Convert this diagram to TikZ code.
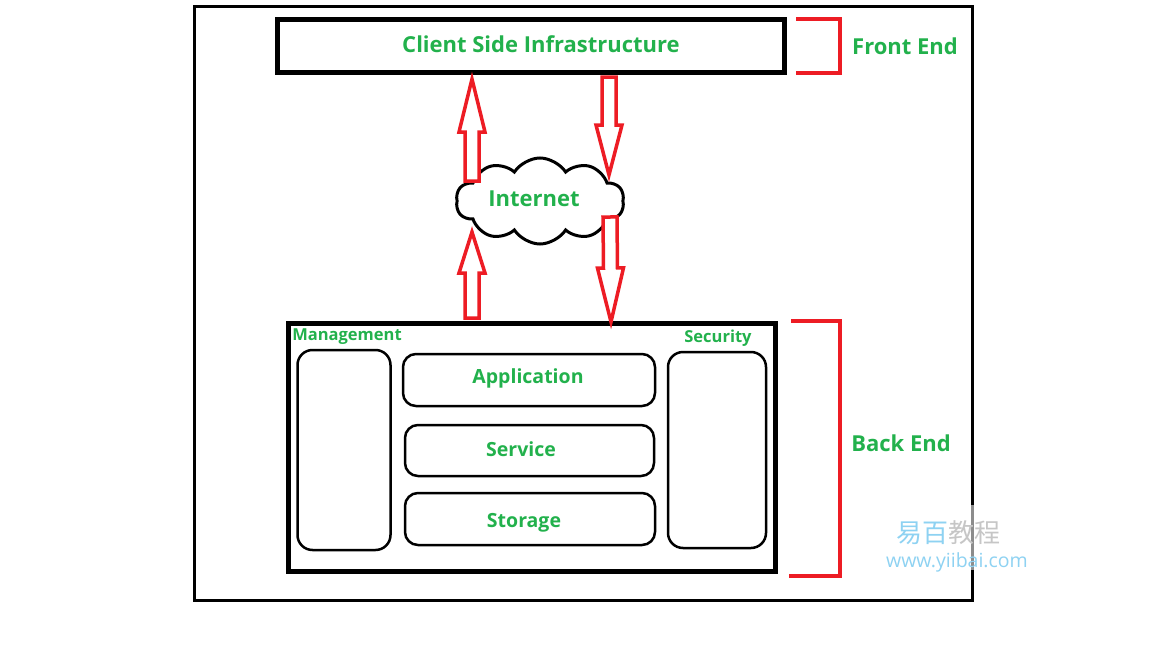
\documentclass[tikz,border=0pt]{standalone}
\usepackage{fontspec}
\setsansfont{Open Sans}
\newfontfamily\cjk{Noto Sans CJK SC}
\usepackage{tikz}
\usetikzlibrary{shapes.symbols,calc}
\definecolor{paintgreen}{HTML}{22B14C}
\definecolor{paintred}{HTML}{ED1C24}
\definecolor{markblue}{HTML}{8ED2F2}
\definecolor{markgray}{HTML}{C6C6C6}

% hollow block arrow: start, tip, head length
\newcommand{\hollowarrow}[3]{%
  \coordinate (hb) at ($(#2)!#3!(#1)$);
  \draw[blockline] ($(#1)!7pt!90:(#2)$) -- ($(hb)!7pt!-90:(#1)$)
    -- ($(hb)!13pt!-90:(#1)$) -- (#2) -- ($(hb)!13pt!90:(#1)$)
    -- ($(hb)!7pt!90:(#1)$) -- ($(#1)!7pt!-90:(#2)$) -- cycle;
}

\begin{document}
\begin{tikzpicture}[x=1pt, y=-1pt,
    txt/.style={text=paintgreen, font=\sffamily\bfseries\fontsize{22}{26}\selectfont, inner sep=0pt},
    small/.style={text=paintgreen, font=\sffamily\bfseries\fontsize{16.5}{20}\selectfont, inner sep=0pt},
    mid/.style={text=paintgreen, font=\sffamily\bfseries\fontsize{19.5}{23}\selectfont, inner sep=0pt},
    layer/.style={draw, line width=2.5pt, rounded corners=13pt, inner sep=0pt},
    side/.style={draw, line width=2.5pt, rounded corners=15pt, inner sep=0pt},
    bracket/.style={draw=paintred, line width=4pt},
    blockline/.style={draw=paintred, fill=white, line width=3.5pt, line join=miter}]
        \useasboundingbox (0,0) rectangle (1152,648);
        % outer frame
        \draw[line width=3pt] (194.5,6.5) rectangle (972.5,600.5);
        % front end
        \node[draw, line width=5pt, minimum width=507pt, minimum height=53pt] (client) at (531,46) {};
        \node[txt] (clientlbl) at (541,44) {Client Side Infrastructure};
        \draw[bracket] (796,19) -- (840,19) -- (840,73) -- (796,73);
        \node[txt] (front) at (905,46) {Front End};
        % internet
        \node[cloud, draw, line width=3pt, cloud puffs=10, cloud puff arc=115, aspect=2,
              minimum width=168pt, minimum height=86pt, inner sep=0pt] (net) at (540,201) {};
        \node[txt] (netlbl) at (534,199) {Internet};
        % back end
        \node[draw, line width=5pt, minimum width=487pt, minimum height=248pt] (back) at (532,447.5) {};
        \node[small] (mgmt) at (347,337) {Management};
        \node[small] (sec) at (718,338) {Security};
        \node[side, minimum width=93pt, minimum height=200pt] (mgmtbox) at (344,450) {};
        \node[side, minimum width=98pt, minimum height=196pt] (secbox) at (717,450) {};
        \node[layer, minimum width=252pt, minimum height=52pt] (app) at (529,380) {};
        \node[layer, minimum width=249pt, minimum height=51pt] (serv) at (529.5,450.5) {};
        \node[layer, minimum width=250pt, minimum height=52pt] (stor) at (530,519) {};
        \node[mid] (applbl) at (528,378) {Application};
        \node[mid] (servlbl) at (521,449) {Service};
        \node[mid] (storlbl) at (524,523) {Storage};
        \draw[bracket] (791,321) -- (840,321) -- (840,576) -- (789,576);
        \node[txt] (backlbl) at (901,443) {Back End};
        % arrows
        \coordinate (ua1) at (472,181);
        \coordinate (ut1) at (472,79);
        \coordinate (ua2) at (472,318);
        \coordinate (ut2) at (472,232);
        \coordinate (da1) at (609,77);
        \coordinate (dt1) at (609,175);
        \coordinate (da2) at (610,217);
        \coordinate (dt2) at (611,322);
        \hollowarrow{ua1}{ut1}{53pt}
        \hollowarrow{ua2}{ut2}{41pt}
        \hollowarrow{da1}{dt1}{50pt}
        \hollowarrow{da2}{dt2}{54pt}
        % watermark
        \fill[white, fill opacity=0.55] (885,505) rectangle (1030,570);
        \node[inner sep=0pt, font=\cjk\fontsize{26}{30}\selectfont] (mark) at (948,533)
            {\textcolor{markblue}{易百}\textcolor{markgray}{教程}};
        \node[inner sep=0pt, text=markblue, font=\sffamily\fontsize{19.5}{22}\selectfont] (url) at (957,562) {www.yiibai.com};
    \end{tikzpicture}
\end{document}
